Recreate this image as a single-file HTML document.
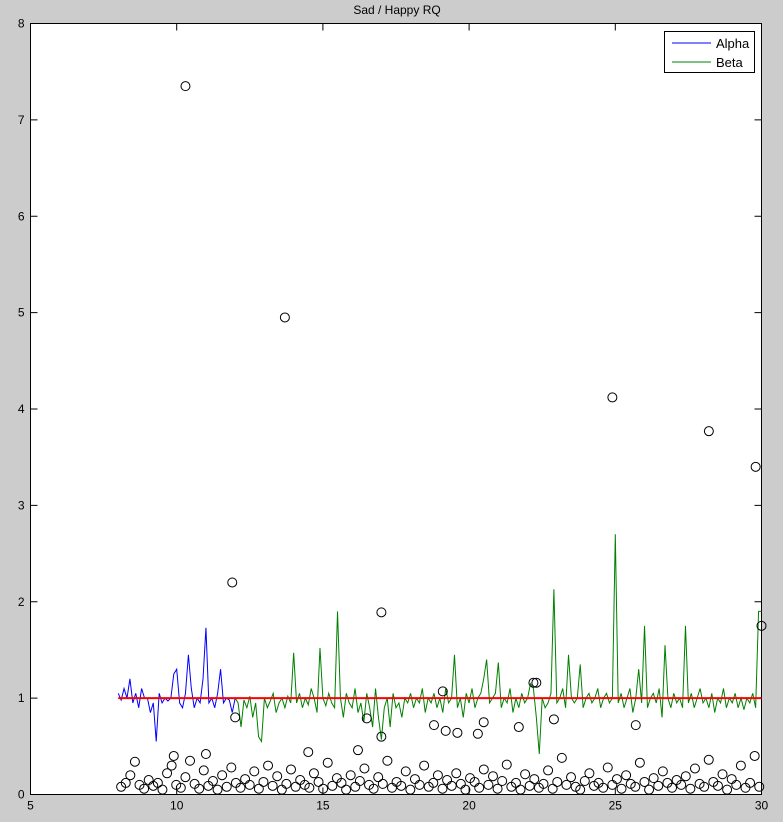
<!DOCTYPE html>
<html><head><meta charset="utf-8"><style>
html,body{margin:0;padding:0;background:#cccccc;}
svg{display:block;font-family:"Liberation Sans",Arial,sans-serif;}
</style></head><body>
<svg id="chart" width="783" height="822" viewBox="0 0 783 822" xmlns="http://www.w3.org/2000/svg">
<rect x="0" y="0" width="783" height="822" fill="#cccccc"/>
<text x="397" y="14" font-size="12" text-anchor="middle" fill="#000">Sad / Happy RQ</text>
<rect x="30.5" y="23.5" width="731" height="771" fill="#fff" stroke="#000" stroke-width="1"/>
<g id="axes"></g>
<g id="marks"></g>
<g>
<rect x="664.5" y="31.5" width="90" height="41" fill="#fff" stroke="#000"/>
<line x1="672" y1="43" x2="711" y2="43" stroke="#0000ff"/>
<text x="716" y="48" font-size="13">Alpha</text>
<line x1="672" y1="62" x2="711" y2="62" stroke="#008000"/>
<text x="716" y="67" font-size="13">Beta</text>
</g>
</svg>
<script>
const xTicks=[5,10,15,20,25,30];
const yTicks=[0,1,2,3,4,5,6,7,8];
const alphaStart=8.0, alphaStep=0.1;
const alphaValues=[1.05,0.98,1.1,1.0,1.2,0.95,1.05,0.9,1.1,1.0,
1.0,0.85,0.95,0.55,1.05,0.95,1.0,0.97,1.0,1.25,
1.3,0.95,0.9,1.05,1.45,1.1,0.9,1.0,0.95,1.2,
1.73,0.95,1.0,0.9,1.05,1.3,0.95,1.0,0.98,0.85,1.0];
const betaStart=12.0, betaStep=0.1;
const betaValues=[1.0,0.95,0.7,0.98,0.9,1.02,0.8,0.95,0.6,0.55,
1.0,0.9,0.97,1.05,0.85,0.95,1.0,0.9,1.02,0.95,
1.47,0.95,1.05,0.9,1.0,0.93,1.1,1.0,0.85,1.52,
1.0,0.92,1.05,0.95,0.9,1.9,1.0,0.8,1.05,0.95,
0.9,1.1,0.85,0.95,0.75,1.05,0.9,0.7,1.1,0.8,
0.57,0.9,1.0,0.7,1.05,0.9,0.95,0.8,1.0,0.95,
1.05,0.9,1.0,0.95,1.1,0.85,1.0,0.95,1.05,0.9,
1.0,0.85,1.1,0.95,1.0,1.45,0.9,1.0,0.8,1.05,
0.95,1.1,0.9,1.0,1.05,1.2,1.4,0.95,1.0,1.05,
1.37,0.9,1.0,0.95,1.1,0.85,1.0,0.9,1.05,0.95,
1.0,1.15,1.1,0.8,0.42,1.0,0.9,0.95,1.05,2.13,
0.95,1.0,1.1,0.9,1.45,1.0,0.95,1.0,1.35,0.9,
1.0,1.05,0.95,1.0,1.1,0.9,1.0,1.05,0.95,1.0,
2.7,0.95,1.05,0.9,1.0,1.1,0.85,1.0,1.3,0.95,
1.75,0.9,1.0,1.05,0.95,1.1,0.8,1.55,1.0,0.9,
1.05,0.95,1.0,0.9,1.75,0.95,1.05,0.9,1.0,1.1,
0.95,1.0,0.9,1.05,0.85,1.0,0.95,1.1,0.9,1.0,
0.95,1.05,0.9,1.0,0.88,1.0,0.95,1.05,0.9,1.9,1.9];
const refX=[8,30];
const refY=[1,1];
const outlierX=[10.3,13.7,11.9,17.0,24.9,28.2,29.8,30.0,22.2,22.3,19.1,12.0,16.5,17.0,18.8,19.2,19.6,20.3,20.5,21.7,22.9,25.7,16.2,14.5,11.0,9.9];
const outlierY=[7.35,4.95,2.2,1.89,4.12,3.77,3.4,1.75,1.16,1.16,1.07,0.8,0.79,0.6,0.72,0.66,0.64,0.63,0.75,0.7,0.78,0.72,0.46,0.44,0.42,0.4];
const lowStart=8.1, lowStep=0.157;
const lowY=[0.08,0.12,0.2,0.34,0.1,0.06,0.15,0.09,0.12,0.05,
0.22,0.3,0.1,0.07,0.18,0.35,0.11,0.06,0.25,0.09,
0.14,0.05,0.2,0.08,0.28,0.12,0.07,0.16,0.1,0.24,
0.06,0.13,0.3,0.09,0.19,0.05,0.11,0.26,0.08,0.15,
0.1,0.07,0.22,0.13,0.06,0.33,0.09,0.17,0.12,0.05,
0.2,0.08,0.14,0.27,0.1,0.06,0.18,0.11,0.35,0.07,
0.13,0.09,0.24,0.05,0.16,0.1,0.3,0.08,0.12,0.2,
0.06,0.15,0.09,0.22,0.11,0.05,0.17,0.13,0.07,0.26,
0.1,0.19,0.06,0.14,0.31,0.08,0.12,0.05,0.21,0.09,
0.16,0.07,0.11,0.25,0.06,0.13,0.38,0.1,0.18,0.08,
0.05,0.14,0.22,0.09,0.12,0.07,0.28,0.1,0.16,0.06,
0.2,0.11,0.08,0.33,0.13,0.05,0.17,0.09,0.24,0.12,
0.07,0.15,0.1,0.19,0.06,0.27,0.11,0.08,0.36,0.13,
0.09,0.21,0.05,0.16,0.1,0.3,0.07,0.12,0.4,0.08];

const NS="http://www.w3.org/2000/svg";
const L=30.5,R=761.5,T=23.5,B=794.5;
function sx(v){return L+(v-5)/25*(R-L);}
function sy(v){return B-v/8*(B-T);}
function mk(tag,attrs,parent){const e=document.createElementNS(NS,tag);for(const k in attrs)e.setAttribute(k,attrs[k]);parent.appendChild(e);return e;}
const axes=document.getElementById('axes'), marks=document.getElementById('marks');

xTicks.forEach(t=>{
  const x=sx(t);
  const tb=mk('line',{x1:x,y1:B,x2:x,y2:B-7,stroke:'#000'},axes);
  
  
  const tt=mk('line',{x1:x,y1:T,x2:x,y2:T+7,stroke:'#000'},axes);
  
  
  const lb=mk('text',{x:x,y:B+15,'font-size':12,'text-anchor':'middle'},axes);
  lb.textContent=t;
  
  
});
yTicks.forEach(t=>{
  const y=sy(t);
  const tl=mk('line',{x1:L,y1:y,x2:L+7,y2:y,stroke:'#000'},axes);
  
  
  const tr=mk('line',{x1:R,y1:y,x2:R-7,y2:y,stroke:'#000'},axes);
  
  
  const lb=mk('text',{x:L-6,y:y+4,'font-size':12,'text-anchor':'end'},axes);
  lb.textContent=t;
  
  
});

function pts(start,step,vals){return vals.map((v,i)=>sx(start+i*step).toFixed(2)+','+sy(v).toFixed(2)).join(' ');}
const beta=mk('polyline',{points:pts(betaStart,betaStep,betaValues),fill:'none',stroke:'#008000','stroke-width':1},marks);


const alpha=mk('polyline',{points:pts(alphaStart,alphaStep,alphaValues),fill:'none',stroke:'#0000ff','stroke-width':1},marks);


const ref=mk('line',{x1:sx(refX[0]),y1:sy(refY[0]),x2:sx(refX[1]),y2:sy(refY[1]),stroke:'#ff0000','stroke-width':2},marks);



lowY.forEach((v,i)=>{
  const c=mk('circle',{cx:sx(lowStart+i*lowStep),cy:sy(v),r:4.5,fill:'none',stroke:'#000','stroke-width':1},marks);
  
  
});
outlierY.forEach((v,i)=>{
  const c=mk('circle',{cx:sx(outlierX[i]),cy:sy(v),r:4.5,fill:'none',stroke:'#000','stroke-width':1},marks);
  
  
});
</script>
</body></html>
